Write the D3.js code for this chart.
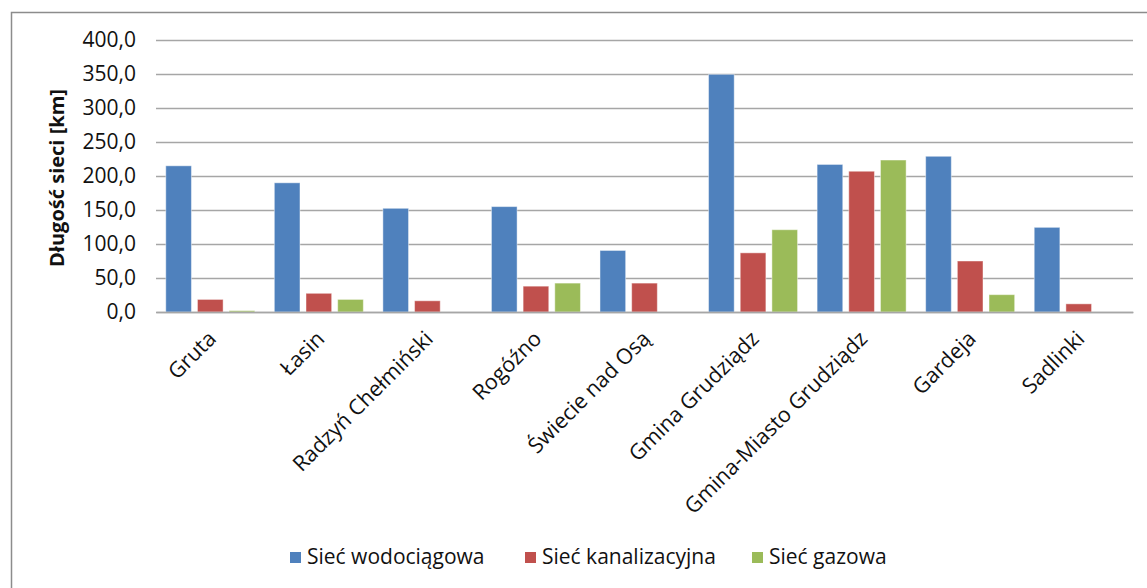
<!DOCTYPE html>
<html>
<head>
<meta charset="utf-8">
<script src="https://cdn.jsdelivr.net/npm/d3@7"></script>
<style>
  html, body { margin: 0; padding: 0; background: #fff; }
  svg { display: block; }
  text { font-family: "Open Sans", "Liberation Sans", sans-serif; fill: #111; }
</style>
</head>
<body>
<svg id="chart" width="1147" height="588"></svg>
<script>
// Gminy (municipalities) along the x axis
const categories = [
  "Gruta", "Łasin", "Radzyń Chełmiński", "Rogóźno", "Świecie nad Osą",
  "Gmina Grudziądz", "Gmina-Miasto Grudziądz", "Gardeja", "Sadlinki"
];

// Network length in km, one array per network type
const siecWodociagowa  = [215, 190, 152.5, 155, 90.5, 349.5, 217, 229, 124.5];
const siecKanalizacyjna = [18.5, 27.5, 16.5, 38, 42.5, 87, 207, 75, 12];
const siecGazowa        = [2, 18.5, 0, 42.5, 0, 121, 223.5, 25.5, 0];

const seriesNames = ["Sieć wodociągowa", "Sieć kanalizacyjna", "Sieć gazowa"];
const seriesValues = [siecWodociagowa, siecKanalizacyjna, siecGazowa];
const seriesColors = ["#4F81BD", "#C0504D", "#9BBB59"];

const yTicks = [0, 50, 100, 150, 200, 250, 300, 350, 400];
const yTitle = "Długość sieci [km]";

const svg = d3.select("#chart");

// outer chart frame
svg.append("rect")
  .attr("x", 11.5).attr("y", 12.5)
  .attr("width", 1150).attr("height", 600)
  .attr("fill", "#fff")
  .attr("stroke", "#8c8c8c").attr("stroke-width", 1.5);

const plot = { left: 156, right: 1133, top: 40, bottom: 312 };

const x0 = d3.scaleBand()
  .domain(categories)
  .range([plot.left, plot.right])
  .paddingInner(0.18)
  .paddingOuter(0.09);

const x1 = d3.scaleBand()
  .domain(seriesNames)
  .range([0, x0.bandwidth()])
  .paddingInner(0.19);

const y = d3.scaleLinear().domain([0, 400]).range([plot.bottom, plot.top]);

const pl = d3.formatLocale({ decimal: ",", thousands: " ", grouping: [3], currency: ["", " zł"] });
const fmt = pl.format(".1f");

// horizontal gridlines + tick labels
const yAxis = d3.axisLeft(y)
  .tickValues(yTicks)
  .tickFormat(fmt)
  .tickSize(-(plot.right - plot.left))
  .tickPadding(20);

const gy = svg.append("g")
  .attr("transform", `translate(${plot.left},0)`)
  .call(yAxis);
gy.select(".domain").remove();
gy.selectAll(".tick line").attr("stroke", "#a6a6a6").attr("stroke-width", 1.5);
gy.selectAll(".tick text")
  .attr("font-size", 21)
  .attr("fill", "#111");

// bars
const groups = svg.append("g").selectAll("g")
  .data(categories)
  .join("g")
  .attr("transform", d => `translate(${x0(d)},0)`);

groups.selectAll("rect")
  .data((d, i) => seriesNames.map((s, k) => ({ s, k, v: seriesValues[k][i] })))
  .join("rect")
  .filter(d => d.v > 0)
  .attr("x", d => x1(d.s))
  .attr("width", x1.bandwidth())
  .attr("y", d => y(d.v))
  .attr("height", d => y(0) - y(d.v))
  .attr("fill", d => seriesColors[d.k])
  .attr("stroke", "rgba(255,255,255,0.45)")
  .attr("stroke-width", 1);

// category axis line
const xAxis = d3.axisBottom(x0).tickSize(0).tickSizeOuter(0).tickFormat("");
const gx = svg.append("g")
  .attr("transform", `translate(0,${plot.bottom})`)
  .call(xAxis);
gx.select(".domain").attr("stroke", "#a6a6a6").attr("stroke-width", 1.5);

// rotated category labels
svg.append("g").selectAll("text")
  .data(categories)
  .join("text")
  .attr("transform", d => `translate(${x0(d) + x0.bandwidth() / 2 + 3},${plot.bottom + 24}) rotate(-45)`)
  .attr("text-anchor", "end")
  .attr("dominant-baseline", "middle")
  .attr("font-size", 21.5)
  .text(d => d);

// y-axis title
svg.append("text")
  .attr("transform", `translate(59,${(plot.top + plot.bottom) / 2 + 2}) rotate(-90)`)
  .attr("text-anchor", "middle")
  .attr("dominant-baseline", "middle")
  .attr("font-size", 20)
  .attr("font-weight", "bold")
  .text(yTitle);

// legend
const legendX = [290, 525, 752];
const legend = svg.append("g").selectAll("g")
  .data(seriesNames)
  .join("g")
  .attr("transform", (d, i) => `translate(${legendX[i]},558)`);
legend.append("rect")
  .attr("x", 0).attr("y", -6)
  .attr("width", 11).attr("height", 11)
  .attr("fill", (d, i) => seriesColors[i]);
legend.append("text")
  .attr("x", 17).attr("y", 0)
  .attr("dominant-baseline", "middle")
  .attr("font-size", 21)
  .text(d => d);
</script>
</body>
</html>
